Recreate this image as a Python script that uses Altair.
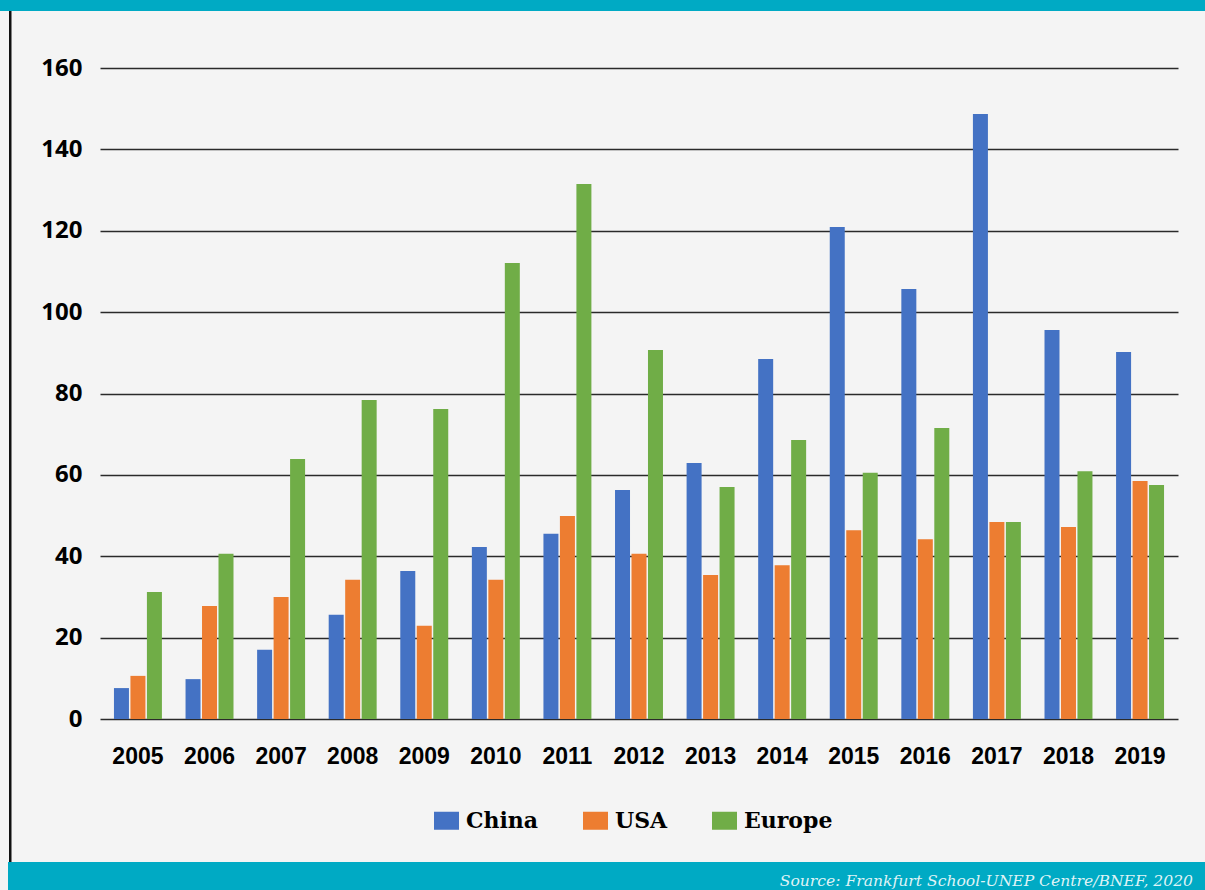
import altair as alt
import pandas as pd

years = ["2005", "2006", "2007", "2008", "2009", "2010", "2011", "2012",
         "2013", "2014", "2015", "2016", "2017", "2018", "2019"]
regions = ["China", "USA", "Europe"]
china = [7.6, 9.8, 17.0, 25.6, 36.4, 42.3, 45.5, 56.3, 62.9, 88.5, 120.9, 105.7, 148.7, 95.6, 90.2]
usa = [10.6, 27.8, 30.0, 34.2, 22.9, 34.2, 49.9, 40.6, 35.4, 37.8, 46.4, 44.2, 48.4, 47.2, 58.5]
europe = [31.2, 40.6, 63.9, 78.4, 76.2, 112.1, 131.5, 90.7, 57.0, 68.6, 60.5, 71.5, 48.4, 60.9, 57.5]
colors = ["#4472c4", "#ed7d31", "#70ad47"]
source = "Source: Frankfurt School-UNEP Centre/BNEF, 2020"

rows = []
for i, y in enumerate(years):
    for r, vals in zip(regions, [china, usa, europe]):
        rows.append({"year": y, "region": r, "value": vals[i]})
df = pd.DataFrame(rows)

TEAL = "#00aac4"
one = pd.DataFrame({"k": [0]})

bars = alt.Chart(df).mark_bar().encode(
    x=alt.X("year:N", sort=years, title=None,
            scale=alt.Scale(paddingInner=0.33, paddingOuter=0.195),
            axis=alt.Axis(labelAngle=0, labelFont="Liberation Sans", labelFontWeight="bold",
                          labelFontSize=23, labelColor="#000000", labelPadding=26,
                          domain=False, ticks=False, grid=False)),
    xOffset=alt.XOffset("region:N", sort=regions,
                        scale=alt.Scale(paddingInner=0.09, paddingOuter=0)),
    y=alt.Y("value:Q", title=None,
            scale=alt.Scale(domain=[0, 160], nice=False),
            axis=alt.Axis(values=[0, 20, 40, 60, 80, 100, 120, 140, 160],
                          labelFont="Open Sans", labelFontWeight="bold", labelFontSize=24,
                          labelColor="#000000", labelPadding=18,
                          domain=False, ticks=False, grid=True,
                          gridColor="#2a2a2a", gridWidth=1.4)),
    color=alt.Color("region:N", sort=regions,
                    scale=alt.Scale(domain=regions, range=colors),
                    legend=alt.Legend(title=None, orient="none", legendX=334, legendY=740,
                                      direction="horizontal",
                                      symbolType="M-1,-0.72H1V0.72H-1Z", symbolSize=625,
                                      symbolStrokeWidth=0, symbolOpacity=1,
                                      labelFont="DejaVu Serif", labelFontWeight="bold",
                                      labelFontSize=22, labelColor="#000000",
                                      labelOffset=7, columnPadding=44, padding=0)),
)

top_bar = alt.Chart(one).mark_rect(color=TEAL).encode(
    x=alt.value(-100), x2=alt.value(1105), y=alt.value(-68), y2=alt.value(-57))
left_line = alt.Chart(one).mark_rect(color="#111111").encode(
    x=alt.value(-91), x2=alt.value(-88.5), y=alt.value(-57), y2=alt.value(794))
bottom_bar = alt.Chart(one).mark_rect(color=TEAL).encode(
    x=alt.value(-92), x2=alt.value(1105), y=alt.value(794), y2=alt.value(822))
src = alt.Chart(one).mark_text(
    text=source, align="right", baseline="alphabetic", font="DejaVu Serif",
    fontStyle="italic", fontWeight="normal", fontSize=15.6, color="#dff3f6"
).encode(x=alt.value(1093), y=alt.value(818))

chart = alt.layer(bars, top_bar, left_line, bottom_bar, src).properties(
    width=1078, height=651,
    autosize=alt.AutoSizeParams(type="none"),
    padding={"left": 100, "top": 68, "right": 27, "bottom": 171},
    background="#f4f4f4",
).configure_view(stroke=None)

chart.save("out.html", embed_options={"renderer": "svg", "actions": False})
